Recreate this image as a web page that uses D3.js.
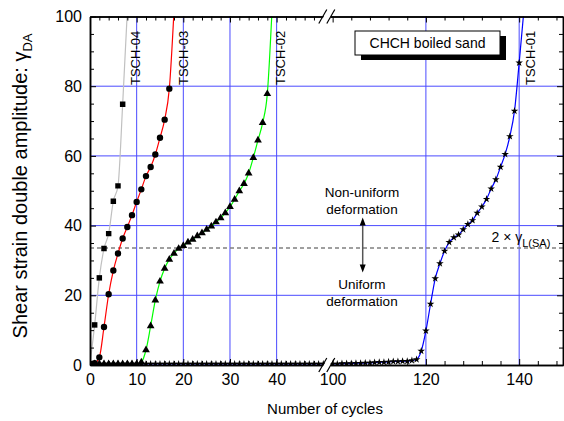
<!DOCTYPE html>
<html>
<head>
<meta charset="utf-8">
<script src="https://cdn.jsdelivr.net/npm/d3@7"></script>
<style>
  body { margin: 0; background: #fff; }
  svg { display: block; font-family: "Liberation Sans", Arial, sans-serif; }
</style>
</head>
<body>
<div id="chart"></div>
<script>
// data: cycle number -> shear strain double amplitude (%)
const cycles04 = [0, 1, 2, 3, 4, 5, 6, 7, 8];
const strain04 = [0.4, 11.5, 25.0, 33.4, 37.7, 47.0, 51.4, 74.8, 101.5];

const cycles03 = [0, 1, 2, 3, 4, 5, 6, 7, 8, 9, 10, 11, 12, 13, 14, 15, 16, 17, 18];
const strain03 = [0.3, 0.5, 2.2, 10.9, 20.3, 27.1, 32.0, 36.3, 39.6, 43.0, 46.8, 50.4, 54.2, 56.8, 60.4, 65.2, 70.4, 79.3, 101.5];

const cycles02 = [0, 1, 2, 3, 4, 5, 6, 7, 8, 9, 10, 11, 12, 13, 14, 15, 16, 17, 18, 19,
  20, 21, 22, 23, 24, 25, 26, 27, 28, 29, 30, 31, 32, 33, 34, 35, 36, 37, 38, 39];
const strain02 = [0.3, 0.3, 0.3, 0.3, 0.3, 0.3, 0.3, 0.3, 0.3, 0.3, 0.3, 0.8, 4.3, 11.2, 18.6, 24.0, 27.7, 30.3, 32.0, 33.4,
  34.2, 35.2, 36.0, 37.0, 37.9, 38.9, 39.8, 41.0, 42.2, 43.6, 45.4, 47.5, 49.9, 52.0, 55.0, 59.5, 64.5, 69.5, 77.8, 101.5];

// TSCH-01 is split by the axis break
const cycles01a = [0, 1, 2, 3, 4, 5, 6, 7, 8, 9, 10, 11, 12, 13, 14, 15, 16, 17, 18, 19, 20, 21, 22, 23, 24, 25,
  26, 27, 28, 29, 30, 31, 32, 33, 34, 35, 36, 37, 38, 39, 40, 41, 42, 43, 44, 45, 46, 47, 48, 49, 50];
const strain01a = [0.3, 0.3, 0.3, 0.3, 0.3, 0.3, 0.3, 0.3, 0.3, 0.3, 0.3, 0.3, 0.3, 0.3, 0.3, 0.3, 0.3, 0.3, 0.3, 0.3, 0.3, 0.3, 0.3, 0.3, 0.3, 0.3,
  0.3, 0.3, 0.3, 0.3, 0.3, 0.3, 0.3, 0.3, 0.3, 0.3, 0.3, 0.3, 0.3, 0.3, 0.3, 0.3, 0.3, 0.3, 0.3, 0.3, 0.3, 0.3, 0.3, 0.3, 0.3];
const cycles01b = [100, 101, 102, 103, 104, 105, 106, 107, 108, 109, 110, 111, 112, 113, 114, 115, 116, 117, 118, 119, 120,
  121, 122, 123, 124, 125, 126, 127, 128, 129, 130, 131, 132, 133, 134, 135, 136, 137, 138, 139, 140, 141];
const strain01b = [0.3, 0.3, 0.4, 0.4, 0.4, 0.5, 0.5, 0.6, 0.6, 0.7, 0.8, 0.8, 0.9, 1.0, 1.0, 1.1, 1.1, 1.3, 1.6, 4.0, 9.8,
  17.5, 24.8, 29.1, 32.7, 35.2, 36.6, 37.4, 38.9, 40.4, 41.5, 43.6, 45.4, 47.6, 50.6, 53.2, 56.8, 60.5, 65.6, 72.9, 86.7, 101.5];

const xTicksLeft = [0, 10, 20, 30, 40];
const xTicksRight = [100, 120, 140];
const yTicks = [0, 20, 40, 60, 80, 100];
const limitStrain = 33.6; // 2 x gamma_L(SA)

const width = 564, height = 421;
const plotLeft = 90, plotRight = 563, plotTop = 16.5, plotBottom = 365;
const breakLeft = 323.3, breakRight = 330.3;

const svg = d3.select("#chart").append("svg")
  .attr("width", width)
  .attr("height", height);

const xLeft = d3.scaleLinear().domain([0, 50]).range([plotLeft, breakLeft]);
const xRight = d3.scaleLinear().domain([99.5, 149.4]).range([breakRight, plotRight]);
const x = c => (c <= 50 ? xLeft(c) : xRight(c));
const y = d3.scaleLinear().domain([0, 100]).range([plotBottom, plotTop]);

svg.append("clipPath").attr("id", "plot-clip")
  .append("rect")
  .attr("x", plotLeft).attr("y", plotTop)
  .attr("width", plotRight - plotLeft).attr("height", plotBottom - plotTop);

// grid
const grid = svg.append("g").attr("stroke", "#4a4aff").attr("stroke-width", 1);
grid.selectAll("line.gx")
  .data([10, 20, 30, 40, 120, 140])
  .join("line")
  .attr("x1", d => x(d)).attr("x2", d => x(d))
  .attr("y1", plotTop).attr("y2", plotBottom);
grid.selectAll("line.gy")
  .data([20, 40, 60, 80])
  .join("line")
  .attr("x1", plotLeft).attr("x2", plotRight)
  .attr("y1", d => y(d)).attr("y2", d => y(d));

// limit line
svg.append("line")
  .attr("x1", plotLeft).attr("x2", plotRight)
  .attr("y1", y(limitStrain)).attr("y2", y(limitStrain))
  .attr("stroke", "#808080")
  .attr("stroke-width", 1.5)
  .attr("stroke-dasharray", "4,3");

// series
const series = [
  { name: "TSCH-04", cycles: cycles04, strain: strain04, color: "#c0c0c0", symbol: d3.symbolSquare, size: 30 },
  { name: "TSCH-03", cycles: cycles03, strain: strain03, color: "#ff0000", symbol: d3.symbolCircle, size: 32 },
  { name: "TSCH-02", cycles: cycles02, strain: strain02, color: "#00ff00", symbol: d3.symbolTriangle, size: 26 },
  { name: "TSCH-01", cycles: cycles01a, strain: strain01a, color: "#0000ff", symbol: d3.symbolStar, size: 18 },
  { name: "TSCH-01", cycles: cycles01b, strain: strain01b, color: "#0000ff", symbol: d3.symbolStar, size: 18 }
];

const plot = svg.append("g").attr("clip-path", "url(#plot-clip)");
const line = d3.line()
  .x(d => x(d[0]))
  .y(d => y(d[1]))
  .curve(d3.curveMonotoneX);

series.forEach(s => {
  const pts = s.cycles.map((c, i) => [c, s.strain[i]]);
  plot.append("path")
    .datum(pts)
    .attr("d", line)
    .attr("fill", "none")
    .attr("stroke", s.color)
    .attr("stroke-width", 1.2);
});

series.forEach(s => {
  const pts = s.cycles.map((c, i) => [c, s.strain[i]]);
  plot.selectAll(null)
    .data(pts)
    .join("path")
    .attr("transform", d => `translate(${x(d[0])},${y(d[1])})`)
    .attr("d", d3.symbol().type(s.symbol).size(s.size))
    .attr("fill", "#000");
});

// axes (ticks point inward)
function styleAxis(g, fontSize) {
  g.selectAll("path.domain").attr("stroke", "#000").attr("stroke-width", 1.5);
  g.selectAll(".tick line").attr("stroke", "#000").attr("stroke-width", 1);
  g.selectAll(".tick text")
    .attr("fill", "#000")
    .style("font-size", `${fontSize}px`)
    .style("font-family", '"Liberation Sans", Arial, sans-serif');
}

const minorLeft = [2, 4, 6, 8, 12, 14, 16, 18, 22, 24, 26, 28, 32, 34, 36, 38, 42, 44, 46, 48];
const minorRight = [104, 108, 112, 116, 124, 128, 132, 136, 144, 148];
const minorY = [5, 10, 15, 25, 30, 35, 45, 50, 55, 65, 70, 75, 85, 90, 95];

[[xLeft, xTicksLeft, minorLeft], [xRight, xTicksRight, minorRight]].forEach(([scale, major, minor]) => {
  svg.append("g")
    .attr("transform", `translate(0,${plotBottom})`)
    .call(d3.axisBottom(scale).tickValues(major).tickSizeInner(-6).tickSizeOuter(0).tickPadding(9))
    .call(g => styleAxis(g, 16));
  svg.append("g")
    .attr("transform", `translate(0,${plotBottom})`)
    .call(d3.axisBottom(scale).tickValues(minor).tickSizeInner(-4).tickSizeOuter(0).tickFormat(""))
    .call(g => styleAxis(g, 16));
  svg.append("g")
    .attr("transform", `translate(0,${plotTop})`)
    .call(d3.axisTop(scale).tickValues(major).tickSizeInner(-6).tickSizeOuter(0).tickFormat(""))
    .call(g => styleAxis(g, 16));
  svg.append("g")
    .attr("transform", `translate(0,${plotTop})`)
    .call(d3.axisTop(scale).tickValues(minor).tickSizeInner(-4).tickSizeOuter(0).tickFormat(""))
    .call(g => styleAxis(g, 16));
});

svg.append("g")
  .attr("transform", `translate(${plotLeft},0)`)
  .call(d3.axisLeft(y).tickValues(yTicks).tickSizeInner(-6).tickSizeOuter(0).tickPadding(8))
  .call(g => styleAxis(g, 16));
svg.append("g")
  .attr("transform", `translate(${plotLeft},0)`)
  .call(d3.axisLeft(y).tickValues(minorY).tickSizeInner(-4).tickSizeOuter(0).tickFormat(""))
  .call(g => styleAxis(g, 16));
svg.append("g")
  .attr("transform", `translate(${plotRight},0)`)
  .call(d3.axisRight(y).tickValues(yTicks).tickSizeInner(-6).tickSizeOuter(0).tickFormat(""))
  .call(g => styleAxis(g, 16));
svg.append("g")
  .attr("transform", `translate(${plotRight},0)`)
  .call(d3.axisRight(y).tickValues(minorY).tickSizeInner(-4).tickSizeOuter(0).tickFormat(""))
  .call(g => styleAxis(g, 16));

// axis break marks
[plotTop, plotBottom].forEach(yb => {
  const cx = (breakLeft + breakRight) / 2;
  svg.append("polygon")
    .attr("points", `${cx - 7},${yb + 7} ${cx + 1},${yb - 7} ${cx + 7},${yb - 7} ${cx - 1},${yb + 7}`)
    .attr("fill", "#fff");
  [-4, 4].forEach(off => {
    svg.append("line")
      .attr("x1", cx + off - 4).attr("y1", yb + 7)
      .attr("x2", cx + off + 4).attr("y2", yb - 7)
      .attr("stroke", "#000").attr("stroke-width", 1.2);
  });
});

// specimen labels
const specimenLabels = [
  { text: "TSCH-04", x: 139.5 },
  { text: "TSCH-03", x: 188 },
  { text: "TSCH-02", x: 284.5 },
  { text: "TSCH-01", x: 534.5 }
];
svg.selectAll("text.spec")
  .data(specimenLabels)
  .join("text")
  .attr("class", "spec")
  .attr("transform", d => `translate(${d.x},85) rotate(-90)`)
  .attr("text-anchor", "start")
  .style("font-size", "13px")
  .text(d => d.text);

// title box with shadow
svg.append("rect").attr("x", 361).attr("y", 36).attr("width", 145).attr("height", 24).attr("fill", "#000");
svg.append("rect").attr("x", 355).attr("y", 31).attr("width", 145).attr("height", 24)
  .attr("fill", "#fff").attr("stroke", "#000").attr("stroke-width", 1);
svg.append("text")
  .attr("x", 427.5).attr("y", 48)
  .attr("text-anchor", "middle")
  .style("font-size", "14px")
  .text("CHCH boiled sand");

// deformation annotation
const ann = svg.append("g").attr("text-anchor", "middle").style("font-size", "13.5px").attr("fill", "#000");
ann.append("text").attr("x", 362).attr("y", 197).text("Non-uniform");
ann.append("text").attr("x", 362).attr("y", 214).text("deformation");
ann.append("text").attr("x", 362).attr("y", 289).text("Uniform");
ann.append("text").attr("x", 362).attr("y", 306).text("deformation");

const ax = 362.7, aTop = 217.5, aBottom = 272.5;
svg.append("line")
  .attr("x1", ax).attr("x2", ax)
  .attr("y1", aTop + 5).attr("y2", aBottom - 5)
  .attr("stroke", "#555").attr("stroke-width", 1.5);
svg.append("path")
  .attr("d", `M${ax},${aTop} L${ax - 3},${aTop + 8} L${ax + 3},${aTop + 8} Z M${ax},${aBottom} L${ax - 3},${aBottom - 8} L${ax + 3},${aBottom - 8} Z`)
  .attr("fill", "#000");

const lim = svg.append("text").attr("x", 491.5).attr("y", 242).style("font-size", "14px");
lim.append("tspan").text("2 \u00d7 \u03b3");
lim.append("tspan").attr("dy", 5).style("font-size", "11px").text("L(SA)");

// axis titles
svg.append("text")
  .attr("x", 325).attr("y", 414)
  .attr("text-anchor", "middle")
  .style("font-size", "15px")
  .text("Number of cycles");

const yt = svg.append("text")
  .attr("transform", "translate(27,186) rotate(-90)")
  .attr("text-anchor", "middle")
  .style("font-size", "20px");
yt.append("tspan").text("Shear strain double amplitude: \u03b3");
yt.append("tspan").attr("dy", 5).style("font-size", "13px").text("DA");
</script>
</body>
</html>
